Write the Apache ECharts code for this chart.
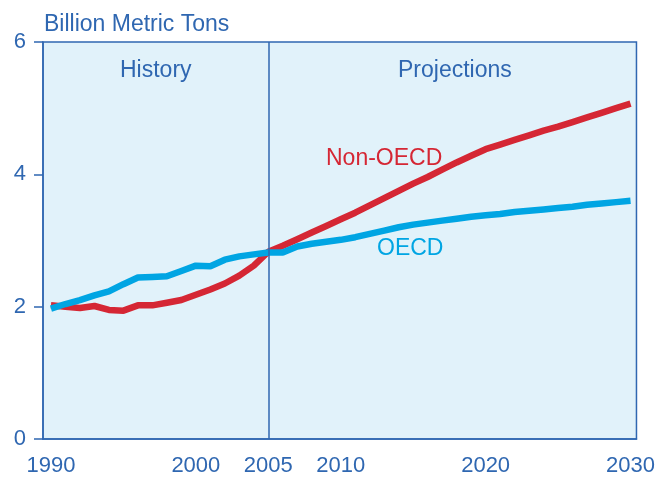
<!DOCTYPE html>
<html>
<head>
<meta charset="utf-8">
<script src="https://cdn.jsdelivr.net/npm/echarts@6/dist/echarts.min.js"></script>
<style>
html,body{margin:0;padding:0;background:#fff;}
#chart{width:658px;height:477px;}
</style>
</head>
<body>
<div id="chart"></div>
<script>
var years = [1990,1991,1992,1993,1994,1995,1996,1997,1998,1999,2000,2001,2002,2003,2004,2005,2006,2007,2008,2009,2010,2011,2012,2013,2014,2015,2016,2017,2018,2019,2020,2021,2022,2023,2024,2025,2026,2027,2028,2029,2030];
var nonOECD = [2.02,2.00,1.98,2.01,1.95,1.94,2.02,2.02,2.06,2.10,2.18,2.26,2.35,2.47,2.62,2.83,2.92,3.02,3.12,3.22,3.32,3.42,3.53,3.64,3.75,3.86,3.96,4.07,4.18,4.28,4.38,4.45,4.52,4.59,4.66,4.72,4.79,4.86,4.93,5.00,5.07];
var oecd = [1.97,2.04,2.10,2.17,2.23,2.34,2.44,2.45,2.46,2.54,2.62,2.61,2.71,2.76,2.79,2.82,2.82,2.91,2.95,2.98,3.01,3.05,3.10,3.15,3.20,3.24,3.27,3.30,3.33,3.36,3.38,3.40,3.43,3.45,3.47,3.49,3.51,3.54,3.56,3.58,3.60];
var xTickLabels = [1990,2000,2005,2010,2020,2030];
var dividerYear = 2005;
var seriesNames = ['Non-OECD','OECD'];

var axisBlue = '#2f67b1';
var redColor = '#d52734';
var cyanColor = '#00a5e3';
var font = 'Liberation Sans, Arial, Helvetica, sans-serif';

function pairs(vals){ return years.map(function(y,i){ return [y, vals[i]]; }); }

var chart = echarts.init(document.getElementById('chart'));
chart.setOption({
  animation:false,
  grid:{left:43,right:20,top:42,bottom:37,show:true,backgroundColor:'#e1f2fa',borderColor:axisBlue,borderWidth:1.5},
  xAxis:{type:'value',min:1989.45,max:2030.41,
    axisLine:{show:true,lineStyle:{color:axisBlue,width:1.5}},
    axisTick:{show:false},splitLine:{show:false},
    axisLabel:{customValues:xTickLabels,color:axisBlue,fontSize:22,fontFamily:font,margin:16,formatter:function(v){return String(v);}}
  },
  yAxis:{type:'value',min:0,max:6,interval:2,
    axisLine:{show:true,lineStyle:{color:axisBlue,width:1.5}},
    axisTick:{show:true,inside:false,length:9,lineStyle:{color:axisBlue,width:1.5}},
    splitLine:{show:false},
    axisLabel:{color:axisBlue,fontSize:22,fontFamily:font,margin:17}
  },
  graphic:[
    {type:'text',left:44,top:13,style:{text:'Billion Metric Tons',fill:axisBlue,font:'23px '+font}},
    {type:'text',left:120,top:59,style:{text:'History',fill:axisBlue,font:'23px '+font}},
    {type:'text',left:398,top:59,style:{text:'Projections',fill:axisBlue,font:'23px '+font}},
    {type:'text',left:326,top:147,style:{text:'Non-OECD',fill:redColor,font:'23px '+font}},
    {type:'text',left:377,top:237,style:{text:'OECD',fill:cyanColor,font:'23px '+font}}
  ],
  series:[
    {name:seriesNames[0],type:'line',data:pairs(nonOECD),showSymbol:false,symbol:'none',
      lineStyle:{color:redColor,width:6.5},
      markLine:{silent:true,symbol:['none','none'],label:{show:false},
        lineStyle:{color:axisBlue,width:1.5,type:'solid'},data:[{xAxis:dividerYear}]},
      z:3},
    {name:seriesNames[1],type:'line',data:pairs(oecd),showSymbol:false,symbol:'none',
      lineStyle:{color:cyanColor,width:6.5},z:4}
  ]
});
</script>
</body>
</html>
